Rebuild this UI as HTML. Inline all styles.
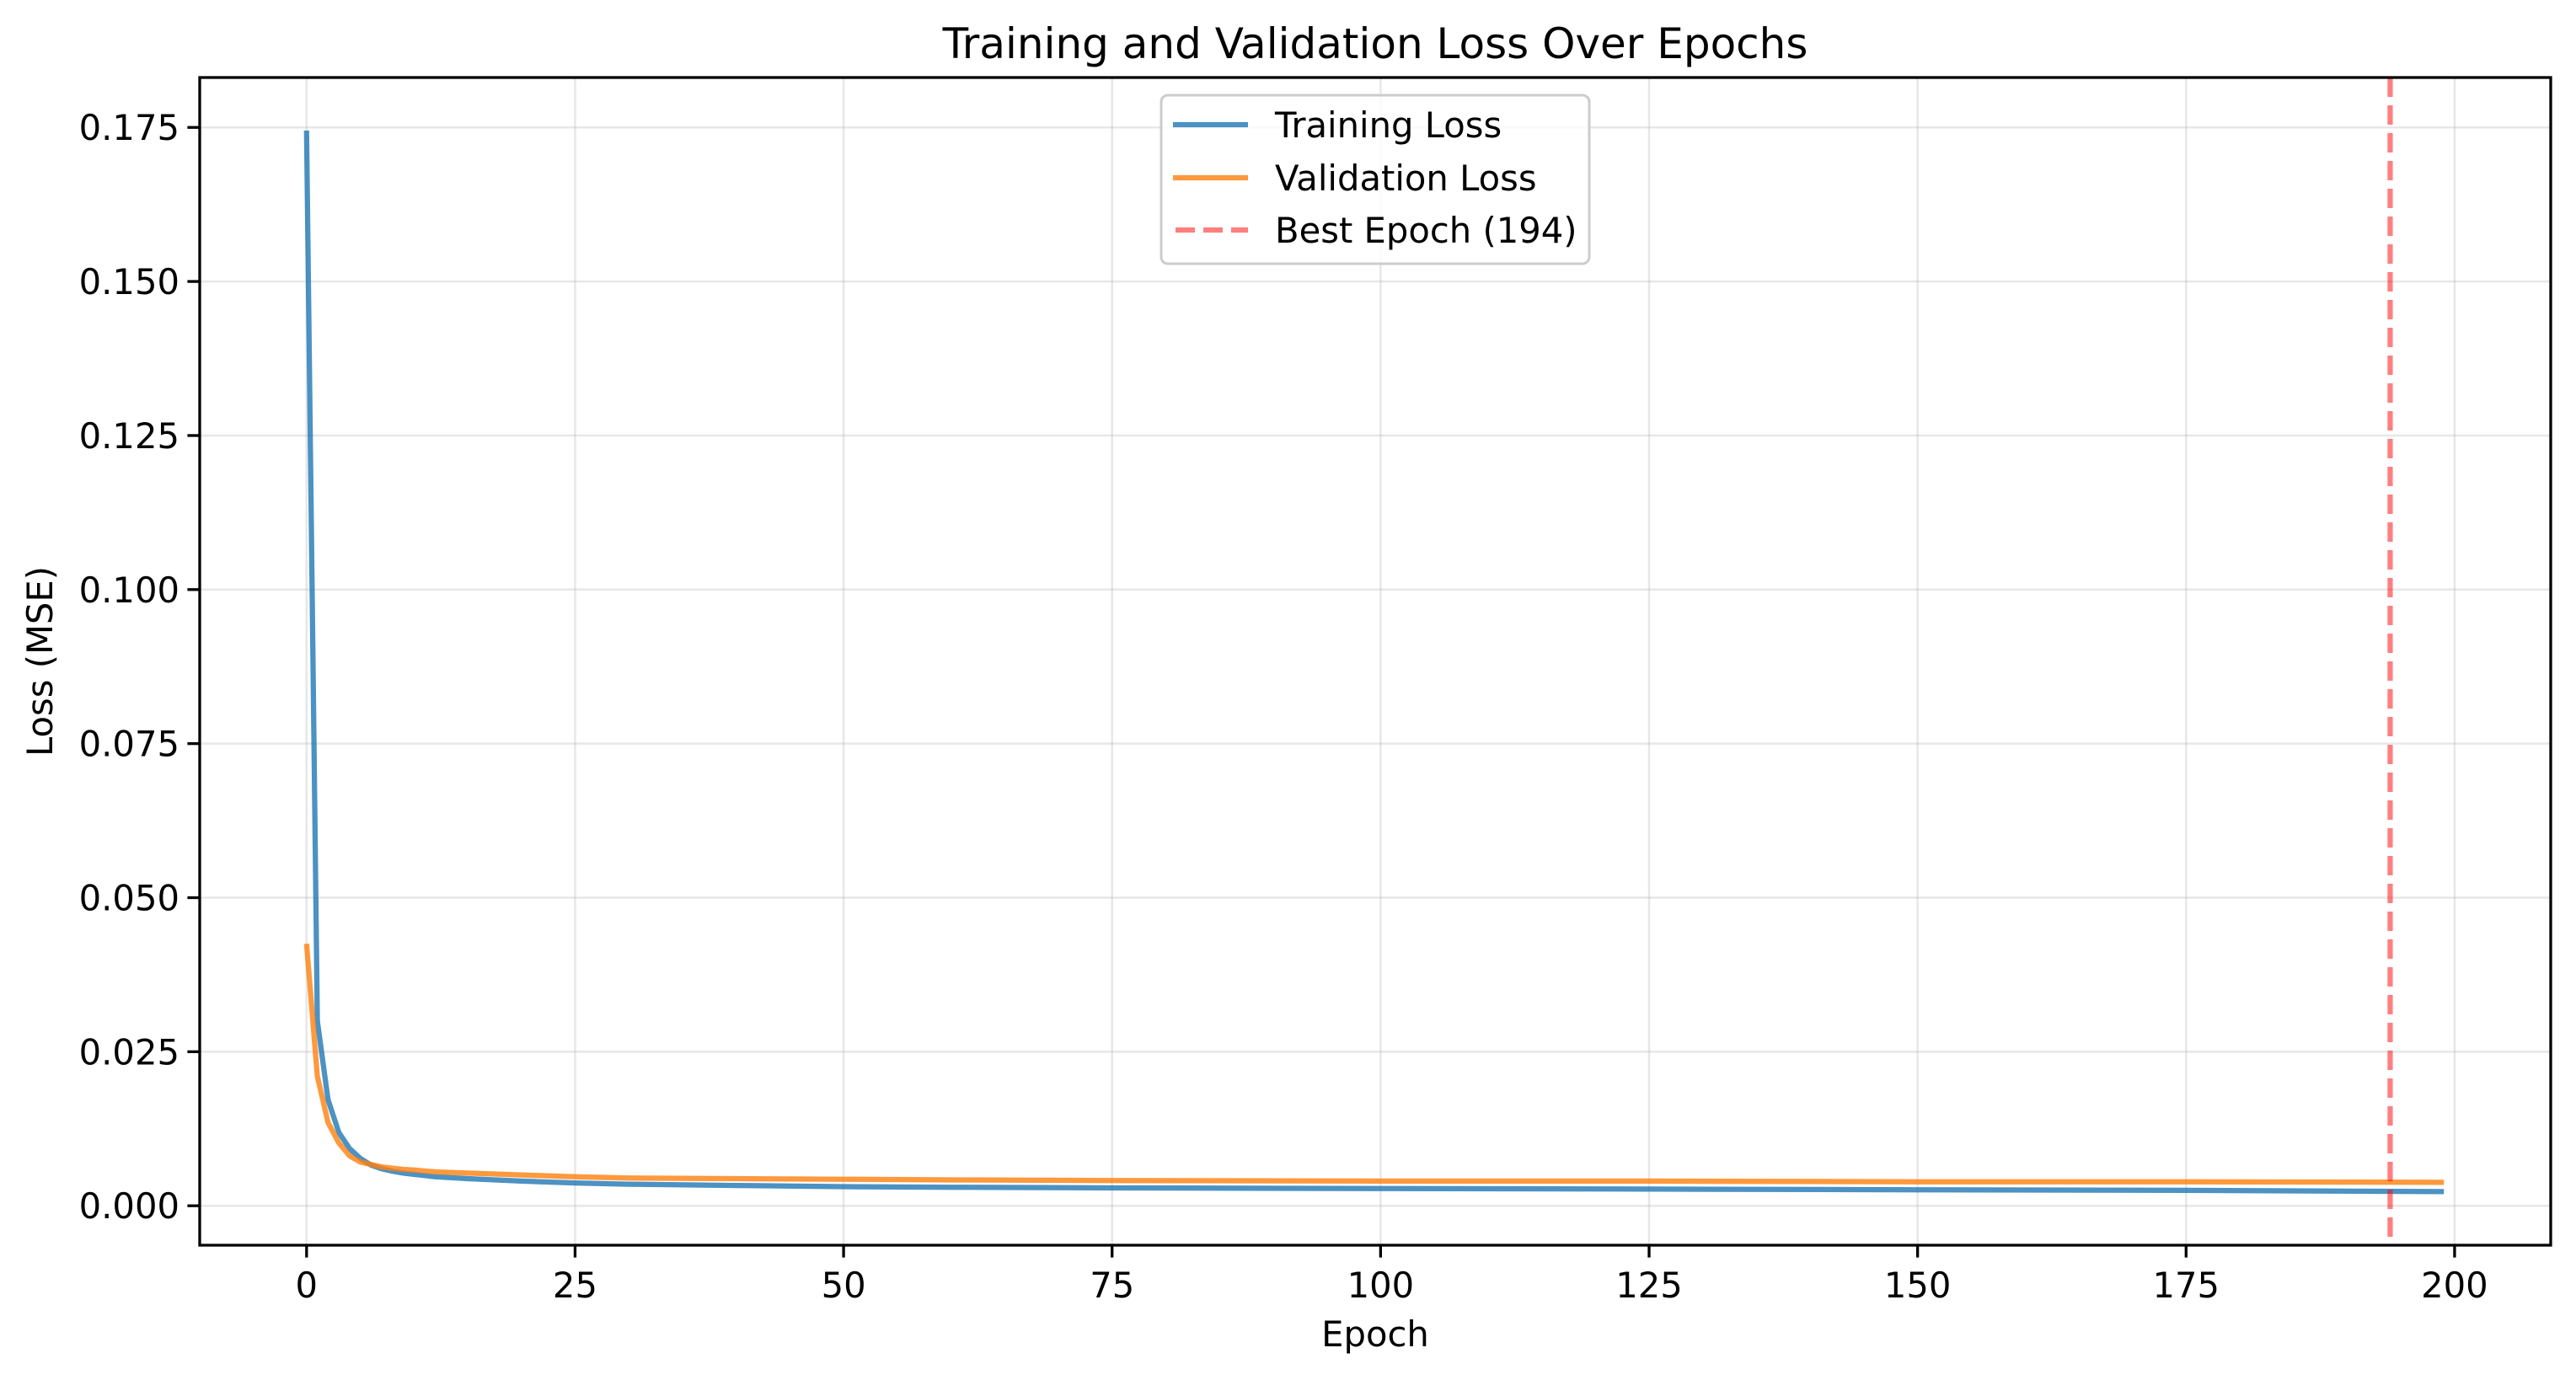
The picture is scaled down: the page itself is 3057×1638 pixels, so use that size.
<!DOCTYPE html>
<html><head><meta charset="utf-8"><style>
html,body{margin:0;padding:0;background:#fff}
svg{display:block;font-family:"DejaVu Sans","Liberation Sans",sans-serif}
</style></head><body>
<svg id="chart" width="3057" height="1638" viewBox="0 0 3057 1638">
<rect width="3057" height="1638" fill="#fff"/>
<g id="grid"></g>
<g id="series"></g>
<g id="axes"></g>
<text x="1632" y="69" font-size="50" text-anchor="middle">Training and Validation Loss Over Epochs</text>
<text x="1632" y="1598" font-size="41.7" text-anchor="middle">Epoch</text>
<text transform="translate(62,785) rotate(-90)" font-size="41.7" text-anchor="middle">Loss (MSE)</text>
<g>
<rect x="1378" y="113" width="508" height="200" rx="8" fill="#fff" fill-opacity="0.8" stroke="#ccc" stroke-width="3"/>
<line x1="1392" y1="148" x2="1481" y2="148" stroke="#1f77b4" stroke-opacity="0.8" stroke-width="6.25"/>
<text x="1513" y="163" font-size="41.7">Training Loss</text>
<line x1="1392" y1="211" x2="1481" y2="211" stroke="#ff7f0e" stroke-opacity="0.8" stroke-width="6.25"/>
<text x="1513" y="226" font-size="41.7">Validation Loss</text>
<line x1="1395" y1="273" x2="1481" y2="273" stroke="#ff0000" stroke-opacity="0.5" stroke-width="6.25" stroke-dasharray="23,10"/>
<text x="1513" y="288" font-size="41.7">Best Epoch (194)</text>
</g>
</svg>
<script>
const epochs = [0,1,2,3,4,5,6,7,8,9,10,12,15,20,25,30,40,50,60,75,100,125,150,175,199];
const trainLoss = [0.1745,0.030,0.0172,0.0119,0.0093,0.0077,0.0066,0.0060,0.0056,0.0053,0.0051,0.0047,0.0044,0.0040,0.0037,0.0035,0.0033,0.0031,0.0030,0.0029,0.0028,0.0027,0.0026,0.0025,0.0023];
const valLoss = [0.0425,0.021,0.0135,0.0102,0.0081,0.0071,0.0067,0.0063,0.0061,0.0059,0.0058,0.0055,0.0053,0.0050,0.0047,0.0045,0.0044,0.0043,0.0042,0.0041,0.0040,0.0040,0.0039,0.0039,0.0038];
const bestEpoch = 194;
const xTicks = [0,25,50,75,100,125,150,175,200];
const yTicks = [0,0.025,0.05,0.075,0.1,0.125,0.15,0.175];
const yTickLabels = ["0.000","0.025","0.050","0.075","0.100","0.125","0.150","0.175"];

const L=237,R=3027,T=92,B=1478;
const xMin=-9.95,xMax=208.95,yMin=-0.0064,yMax=0.1831;
const X=v=>L+(v-xMin)/(xMax-xMin)*(R-L);
const Y=v=>B-(v-yMin)/(yMax-yMin)*(B-T);
const NS="http://www.w3.org/2000/svg";
function mk(tag,attrs,parent){const e=document.createElementNS(NS,tag);for(const k in attrs)e.setAttribute(k,attrs[k]);parent.appendChild(e);return e;}
const grid=document.getElementById('grid'),series=document.getElementById('series'),axes=document.getElementById('axes');

xTicks.forEach(t=>{
  const g=mk('line',{x1:X(t),x2:X(t),y1:T,y2:B,stroke:'#b0b0b0','stroke-opacity':0.3,'stroke-width':2.5},grid);
  
  
  const tk=mk('line',{x1:X(t),x2:X(t),y1:B,y2:B+14.6,stroke:'#000','stroke-width':3.3},axes);
  
  
  const lb=mk('text',{x:X(t),y:B+62,'font-size':41.7,'text-anchor':'middle'},axes);
  lb.textContent=String(t);
  
  
});
yTicks.forEach((t,i)=>{
  const g=mk('line',{x1:L,x2:R,y1:Y(t),y2:Y(t),stroke:'#b0b0b0','stroke-opacity':0.3,'stroke-width':2.5},grid);
  
  
  const tk=mk('line',{x1:L-14.6,x2:L,y1:Y(t),y2:Y(t),stroke:'#000','stroke-width':3.3},axes);
  
  
  const lb=mk('text',{x:L-24,y:Y(t)+15,'font-size':41.7,'text-anchor':'end'},axes);
  lb.textContent=yTickLabels[i];
  
  
});
function path(vals){return epochs.map((e,i)=>(i?'L':'M')+X(e).toFixed(1)+','+Y(vals[i]).toFixed(1)).join(' ');}
const tl=mk('path',{d:path(trainLoss),fill:'none',stroke:'#1f77b4','stroke-opacity':0.8,'stroke-width':6.25,'stroke-linejoin':'round'},series);


const vl=mk('path',{d:path(valLoss),fill:'none',stroke:'#ff7f0e','stroke-opacity':0.8,'stroke-width':6.25,'stroke-linejoin':'round'},series);


const bl=mk('line',{x1:X(bestEpoch),x2:X(bestEpoch),y1:T,y2:B,stroke:'#ff0000','stroke-opacity':0.5,'stroke-width':6.25,'stroke-dasharray':'23,10'},series);


const fr=mk('rect',{x:L,y:T,width:R-L,height:B-T,fill:'none',stroke:'#000','stroke-width':3.3},axes);


</script>
</body></html>
